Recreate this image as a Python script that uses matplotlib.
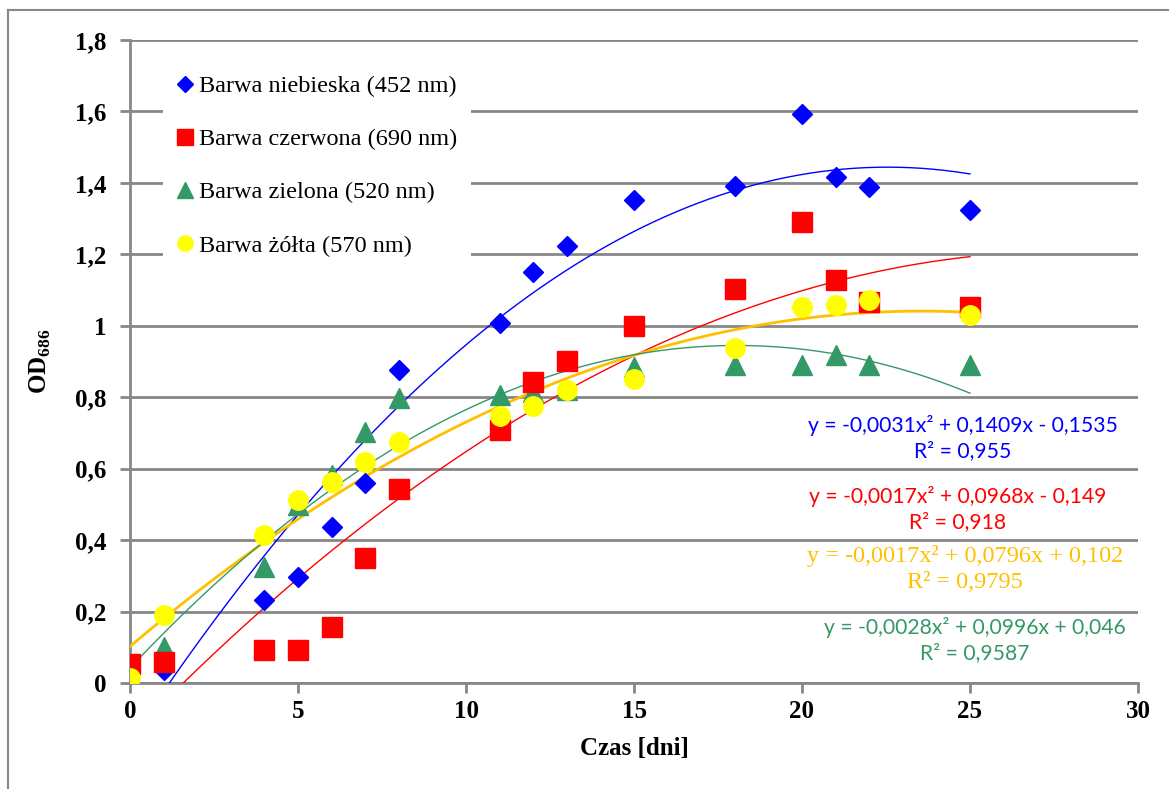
import numpy as np
import matplotlib.pyplot as plt
from matplotlib.lines import Line2D

# czas [dni]
days = [0, 1, 4, 5, 6, 7, 8, 11, 12, 13, 15, 18, 20, 21, 22, 25]

# OD686 for each colour
od_blue = [0.03, 0.037, 0.233, 0.298, 0.436, 0.561, 0.876, 1.009, 1.151, 1.223,
           1.352, 1.392, 1.592, 1.416, 1.388, 1.324]
od_red = [0.054, 0.058, 0.093, 0.093, 0.156, 0.350, 0.543, 0.707, 0.844, 0.902,
          0.998, 1.102, 1.291, 1.128, 1.067, 1.053]
od_green = [0.01, 0.10, 0.326, 0.498, 0.582, 0.704, 0.797, 0.805, 0.816, 0.82,
            0.886, 0.89, 0.89, 0.918, 0.89, 0.89]
od_yellow = [0.014, 0.191, 0.415, 0.513, 0.564, 0.62, 0.676, 0.748, 0.776, 0.82,
             0.851, 0.939, 1.052, 1.058, 1.072, 1.03]

eq_blue = ['y = -0,0031x² + 0,1409x - 0,1535', 'R² = 0,955']
eq_red = ['y = -0,0017x² + 0,0968x - 0,149', 'R² = 0,918']
eq_yellow = ['y = -0,0017x² + 0,0796x + 0,102', 'R² = 0,9795']
eq_green = ['y = -0,0028x² + 0,0996x + 0,046', 'R² = 0,9587']

labels = ['Barwa niebieska (452 nm)', 'Barwa czerwona (690 nm)',
          'Barwa zielona (520 nm)', 'Barwa żółta (570 nm)']

BLUE = '#0000FF'
RED = '#FF0000'
GREEN = '#339966'
YELLOW = '#FFFF00'
ORANGE = '#FFC000'
GRID = '#878787'

serif = 'Liberation Serif'
plt.rcParams['mathtext.fontset'] = 'custom'
plt.rcParams['mathtext.bf'] = 'Liberation Serif:bold'
plt.rcParams['mathtext.rm'] = 'Liberation Serif'

W, H = 1169, 789
fig = plt.figure(figsize=(W / 100, H / 100), dpi=100)
ax = fig.add_axes([130 / W, 1 - 683 / H, (1138 - 130) / W, (683 - 40) / H])

# polynomial (2nd order) trendlines
xx = np.linspace(0, 25, 300)
for ys, col, lw in [(od_blue, BLUE, 1.0), (od_red, RED, 1.0),
                    (od_yellow, ORANGE, 2.0), (od_green, GREEN, 1.0)]:
    coef = np.polyfit(days, ys, 2)
    ax.plot(xx, np.polyval(coef, xx), color=col, lw=lw, zorder=3)

ms = 14
ax.plot(days, od_blue, ls='none', marker='D', ms=10, color=BLUE, zorder=4)
ax.plot(days, od_green, ls='none', marker='^', ms=ms, color=GREEN, zorder=4)
ax.plot(days, od_red, ls='none', marker='s', ms=ms, color=RED, zorder=4)
ax.plot(days, od_yellow, ls='none', marker='o', ms=ms, color=YELLOW, zorder=4)

ax.set_xlim(0, 30)
ax.set_ylim(0, 1.8)
ax.set_xticks(np.arange(0, 31, 5))
yt = np.arange(0, 1.81, 0.2)
ax.set_yticks(yt)
ax.set_yticklabels(['0' if v == 0 else ('1' if abs(v - 1) < 1e-9 else f'{v:.1f}'.replace('.', ','))
                    for v in yt])
ax.grid(axis='y', color=GRID, lw=2, zorder=0)
ax.set_axisbelow(True)
for s in ['top', 'right']:
    ax.spines[s].set_visible(False)
for s in ['left', 'bottom']:
    ax.spines[s].set_color(GRID)
    ax.spines[s].set_linewidth(2)
ax.tick_params(axis='both', color=GRID, width=2, length=7, direction='out')
ax.tick_params(axis='x', pad=5)
ax.tick_params(axis='y', pad=10)
for lab in ax.get_xticklabels() + ax.get_yticklabels():
    lab.set_fontfamily(serif)
    lab.set_fontweight('bold')
    lab.set_fontsize(18)

ax.set_xlabel('Czas [dni]', fontfamily=serif, fontweight='bold', fontsize=18, labelpad=10)
ax.set_ylabel(r'OD$_{\mathbf{686}}$', fontfamily=serif, fontweight='bold', fontsize=18, labelpad=16)

handles = [Line2D([], [], ls='none', marker='D', ms=8, color=BLUE),
           Line2D([], [], ls='none', marker='s', ms=11, color=RED),
           Line2D([], [], ls='none', marker='^', ms=11, color=GREEN),
           Line2D([], [], ls='none', marker='o', ms=11, color=YELLOW)]
leg = ax.legend(handles, labels, loc='upper left', bbox_to_anchor=(0.033, 0.968),
                prop={'family': serif, 'size': 17.5}, frameon=True, fancybox=False,
                edgecolor='none', facecolor='white', framealpha=1,
                handlelength=0.6, handletextpad=0.25, labelspacing=1.28,
                borderpad=0.6, borderaxespad=0)
leg.set_zorder(5)

# equation labels
eq_font = 'Lato'
for lines, col, xc, yc, fam, fs in [(eq_blue, BLUE, 963, 438, eq_font, 15.2),
                                    (eq_red, RED, 958, 509, eq_font, 15.2),
                                    (eq_yellow, ORANGE, 965, 569, serif, 17.5),
                                    (eq_green, GREEN, 975, 640, eq_font, 15.2)]:
    fig.text(xc / W, 1 - yc / H, lines[0] + '\n' + lines[1], color=col,
             fontsize=fs, fontfamily=fam, ha='center', va='center',
             linespacing=1.3, zorder=6,
             bbox=dict(facecolor='white', edgecolor='none', pad=2))

# outer chart frame
fig.add_artist(Line2D([8 / W, 8 / W], [0, 1 - 10 / H], color=GRID, lw=1.5))
fig.add_artist(Line2D([8 / W, 1], [1 - 10 / H, 1 - 10 / H], color=GRID, lw=1.5))

fig.savefig('out.png', dpi=100)
